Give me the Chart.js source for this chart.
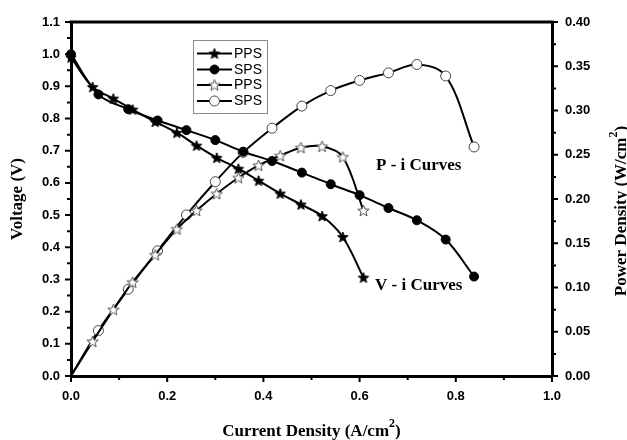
<!DOCTYPE html>
<html>
<head>
<meta charset="utf-8">
<script src="https://cdn.jsdelivr.net/npm/chart.js@4"></script>
<style>
  html, body { margin: 0; padding: 0; background: #fff; }
  #wrap { width: 627px; height: 440px; }
</style>
</head>
<body>
<div id="wrap"><canvas id="chart" width="627" height="440"></canvas></div>
<script>
// current density (A/cm2)
const ppsCurrent = [0, 0.045, 0.088, 0.128, 0.175, 0.22, 0.261, 0.303, 0.348, 0.39, 0.435, 0.478, 0.522, 0.565, 0.608];
const spsCurrent = [0, 0.057, 0.119, 0.18, 0.24, 0.30, 0.358, 0.418, 0.48, 0.54, 0.60, 0.66, 0.719, 0.779, 0.838];
// voltage (V)
const ppsVoltage = [0.99, 0.898, 0.862, 0.828, 0.79, 0.756, 0.716, 0.678, 0.644, 0.607, 0.567, 0.533, 0.497, 0.432, 0.306];
const spsVoltage = [1.0, 0.875, 0.829, 0.794, 0.764, 0.733, 0.697, 0.668, 0.632, 0.596, 0.562, 0.522, 0.484, 0.424, 0.309];
// power density (W/cm2)
const ppsPower = [0, 0.039, 0.075, 0.106, 0.137, 0.166, 0.187, 0.206, 0.224, 0.238, 0.249, 0.258, 0.2595, 0.2475, 0.187];
const spsPower = [0, 0.0513, 0.098, 0.1414, 0.182, 0.2195, 0.2527, 0.280, 0.305, 0.3225, 0.334, 0.3425, 0.352, 0.339, 0.2588];

const seriesLabels = ['PPS', 'SPS', 'PPS', 'SPS'];
const xTicks = [0, 0.2, 0.4, 0.6, 0.8, 1.0];

function starImage(r, fill, stroke) {
  const c = document.createElement('canvas');
  const s = Math.ceil(r * 2 + 3);
  c.width = s; c.height = s;
  const g = c.getContext('2d');
  const cx = s / 2, cy = s / 2 + 0.5;
  g.beginPath();
  for (let i = 0; i < 10; i++) {
    const rr = i % 2 === 0 ? r : r * 0.42;
    const a = -Math.PI / 2 + i * Math.PI / 5;
    const px = cx + rr * Math.cos(a), py = cy + rr * Math.sin(a);
    i === 0 ? g.moveTo(px, py) : g.lineTo(px, py);
  }
  g.closePath();
  g.fillStyle = fill;
  g.fill();
  g.lineWidth = 1;
  g.strokeStyle = stroke;
  g.stroke();
  return c;
}

const starFilled = starImage(5.5, '#000', '#000');
const starOpen = starImage(6, '#fff', '#555');

function pts(xs, ys) {
  return xs.map((x, i) => ({ x: x, y: ys[i] }));
}

const hideOrigin = ctx => (ctx.dataIndex === 0 ? 0 : 5);

const markers = [starFilled, 'circle', starOpen, 'circle'];

// minor/major tick marks, frame top, titles, labels, legend
const decor = {
  id: 'decor',
  afterDraw(chart) {
    const ctx = chart.ctx;
    const a = chart.chartArea;
    const sx = chart.scales.x, sy = chart.scales.y, sy1 = chart.scales.y1;
    ctx.save();
    ctx.strokeStyle = '#000';
    ctx.lineWidth = 2;
    ctx.beginPath();
    for (let i = 0; i <= 10; i++) {
      const px = sx.getPixelForValue(i / 10);
      const len = i % 2 === 0 ? 6 : 4;
      ctx.moveTo(px, a.bottom); ctx.lineTo(px, a.bottom + len);
    }
    for (let i = 0; i <= 22; i++) {
      const py = sy.getPixelForValue(i * 0.05);
      const len = i % 2 === 0 ? 6 : 4;
      ctx.moveTo(a.left, py); ctx.lineTo(a.left - len, py);
    }
    for (let i = 0; i <= 16; i++) {
      const py = sy1.getPixelForValue(i * 0.025);
      const len = i % 2 === 0 ? 6 : 4;
      ctx.moveTo(a.right, py); ctx.lineTo(a.right + len, py);
    }
    ctx.stroke();

    // top frame
    ctx.lineWidth = 3;
    ctx.beginPath();
    ctx.moveTo(a.left - 1.5, a.top); ctx.lineTo(a.right + 1.5, a.top);
    ctx.stroke();

    ctx.fillStyle = '#000';
    const serif = 'bold 17px "Liberation Serif", "Times New Roman", serif';
    const sup = 'bold 12px "Liberation Serif", "Times New Roman", serif';

    function supText(parts, x, y, align) {
      // parts: [main, superscript, tail]
      ctx.font = serif;
      const w1 = ctx.measureText(parts[0]).width;
      const w3 = ctx.measureText(parts[2]).width;
      ctx.font = sup;
      const w2 = ctx.measureText(parts[1]).width;
      const total = w1 + w2 + w3;
      let x0 = align === 'center' ? x - total / 2 : x;
      ctx.textAlign = 'left';
      ctx.textBaseline = 'alphabetic';
      ctx.font = serif;
      ctx.fillText(parts[0], x0, y);
      ctx.font = sup;
      ctx.fillText(parts[1], x0 + w1, y - 9);
      ctx.font = serif;
      ctx.fillText(parts[2], x0 + w1 + w2, y);
    }

    // x title
    supText(['Current Density (A/cm', '2', ')'], (a.left + a.right) / 2, 436, 'center');

    // left title
    ctx.save();
    ctx.translate(22, (a.top + a.bottom) / 2);
    ctx.rotate(-Math.PI / 2);
    ctx.font = serif;
    ctx.textAlign = 'center';
    ctx.textBaseline = 'alphabetic';
    ctx.fillText('Voltage (V)', 0, 0);
    ctx.restore();

    // right title
    ctx.save();
    ctx.translate(626, (a.top + a.bottom) / 2 + 12);
    ctx.rotate(-Math.PI / 2);
    supText(['Power Density (W/cm', '2', ')'], 0, 0, 'center');
    ctx.restore();

    // curve labels
    ctx.font = serif;
    ctx.textAlign = 'left';
    ctx.textBaseline = 'alphabetic';
    ctx.fillText('P - i Curves', 376, 170);
    ctx.fillText('V - i Curves', 375, 290);

    // legend
    const bx = 193, by = 40, bw = 74, bh = 73;
    ctx.lineWidth = 1;
    ctx.strokeStyle = '#8a8a8a';
    ctx.strokeRect(bx + 0.5, by + 0.5, bw, bh);
    ctx.font = '14px "Liberation Sans", Arial, sans-serif';
    ctx.textBaseline = 'middle';
    const rows = [53.5, 69.5, 85, 101];
    chart.data.datasets.forEach((ds, i) => {
      const ry = rows[i];
      ctx.strokeStyle = '#000';
      ctx.lineWidth = 2;
      ctx.beginPath();
      ctx.moveTo(197, ry); ctx.lineTo(232, ry);
      ctx.stroke();
      const m = markers[i];
      if (m === 'circle') {
        ctx.beginPath();
        ctx.arc(214.5, ry, i === 1 ? 4.5 : 5, 0, Math.PI * 2);
        ctx.fillStyle = i === 1 ? '#000' : '#fff';
        ctx.fill();
        ctx.lineWidth = 1;
        ctx.strokeStyle = i === 1 ? '#000' : '#444';
        ctx.stroke();
      } else {
        ctx.drawImage(m, 214.5 - m.width / 2, ry - m.height / 2);
      }
      ctx.fillStyle = '#000';
      ctx.fillText(seriesLabels[i], 234, ry + 0.5);
    });
    ctx.restore();
  }
};

const tickFont = { family: '"Liberation Sans", Arial, sans-serif', size: 13, weight: 'bold' };

new Chart(document.getElementById('chart'), {
  type: 'line',
  data: {
    datasets: [
      {
        label: seriesLabels[0],
        data: pts(ppsCurrent, ppsVoltage),
        yAxisID: 'y',
        pointStyle: starFilled,
        pointRadius: 5,
      },
      {
        label: seriesLabels[1],
        data: pts(spsCurrent, spsVoltage),
        yAxisID: 'y',
        pointStyle: 'circle',
        pointRadius: 4.5,
        pointBackgroundColor: '#000',
        pointBorderColor: '#000',
      },
      {
        label: seriesLabels[2],
        data: pts(ppsCurrent, ppsPower),
        yAxisID: 'y1',
        pointStyle: starOpen,
        pointRadius: hideOrigin,
      },
      {
        label: seriesLabels[3],
        data: pts(spsCurrent, spsPower),
        yAxisID: 'y1',
        pointStyle: 'circle',
        pointRadius: hideOrigin,
        pointBackgroundColor: '#fff',
        pointBorderColor: '#444',
        pointBorderWidth: 1,
      },
    ],
  },
  options: {
    responsive: false,
    animation: false,
    devicePixelRatio: 1,
    layout: { padding: { top: 22, left: 0, right: 0, bottom: 0 } },
    elements: {
      line: { borderColor: '#000', borderWidth: 2, tension: 0.35, fill: false },
      point: { hoverRadius: 5 },
    },
    datasets: { line: { clip: false } },
    plugins: {
      legend: { display: false },
      tooltip: { enabled: false },
    },
    scales: {
      x: {
        type: 'linear',
        min: 0,
        max: 1.0,
        afterFit: s => { s.height = 64; },
        afterBuildTicks: s => { s.ticks = xTicks.map(v => ({ value: v })); },
        ticks: { font: tickFont, color: '#000', padding: 7, maxRotation: 0, callback: v => v.toFixed(1) },
        grid: { display: false, drawTicks: true, tickLength: 6 },
        border: { display: true, color: '#000', width: 3 },
      },
      y: {
        type: 'linear',
        position: 'left',
        min: 0,
        max: 1.1,
        afterFit: s => { s.width = 71; },
        ticks: { font: tickFont, color: '#000', padding: 5, stepSize: 0.1, callback: v => v.toFixed(1) },
        grid: { display: false, drawTicks: true, tickLength: 6 },
        border: { display: true, color: '#000', width: 3 },
      },
      y1: {
        type: 'linear',
        position: 'right',
        min: 0,
        max: 0.4,
        afterFit: s => { s.width = 75; },
        ticks: { font: tickFont, color: '#000', padding: 7, stepSize: 0.05, callback: v => v.toFixed(2) },
        grid: { display: false, drawTicks: true, tickLength: 6 },
        border: { display: true, color: '#000', width: 3 },
      },
    },
  },
  plugins: [decor],
});
</script>
</body>
</html>
